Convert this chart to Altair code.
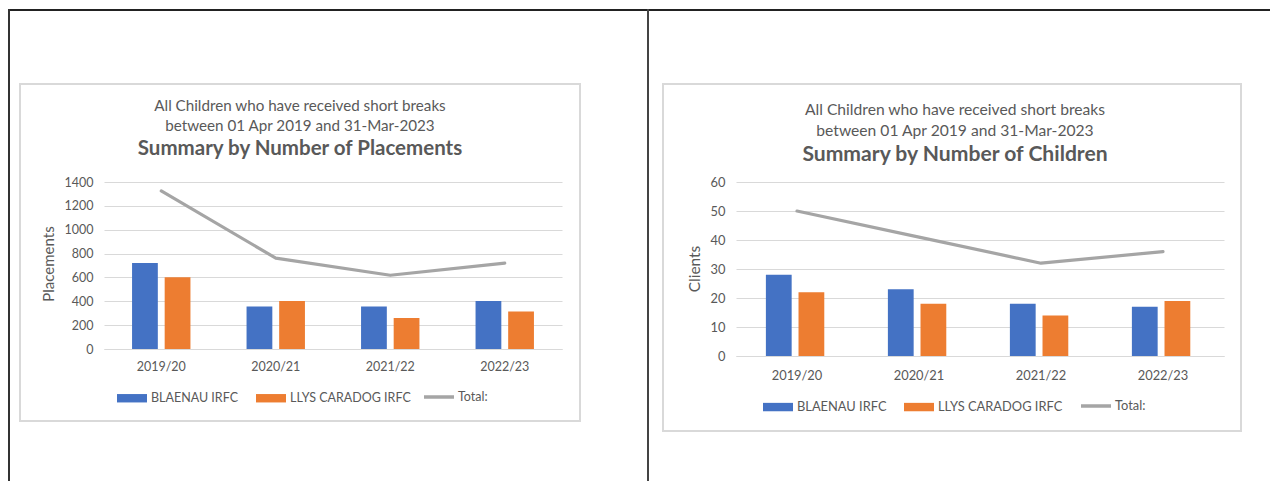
import altair as alt
import pandas as pd

# ---------------- data ----------------
years = ["2019/20", "2020/21", "2021/22", "2022/23"]
series = ["BLAENAU IRFC", "LLYS CARADOG IRFC"]
total_label = "Total:"

placements_blaenau = [720, 357, 357, 402]
placements_llys = [602, 402, 260, 315]
placements_total = [1325, 762, 618, 720]

children_blaenau = [28, 23, 18, 17]
children_llys = [22, 18, 14, 19]
children_total = [50, 41, 32, 36]

subtitle_1 = "All Children who have received short breaks"
subtitle_2 = "between 01 Apr 2019 and 31-Mar-2023"
title_left = "Summary by Number of Placements"
title_right = "Summary by Number of Children"
ytitle_left = "Placements"
ytitle_right = "Clients"

placement_ticks = [0, 200, 400, 600, 800, 1000, 1200, 1400]
children_ticks = [0, 10, 20, 30, 40, 50, 60]

BLUE = "#4472C4"
ORANGE = "#ED7D31"
GREY = "#A5A5A5"
TEXT = "#595959"
GRID = "#D9D9D9"
FONT = "Lato"

dummy = pd.DataFrame({"d": [0]})


def panel(b_vals, l_vals, t_vals, ticks, ymax, ytitle, title, w, h,
          box, title_x, title_ys, ytitle_xy, legend_x, legend_y,
          line_legend_x, xlabel_pad, extra=None, fs=1.0):
    bars_df = pd.DataFrame({
        "year": years * 2,
        "series": [series[0]] * 4 + [series[1]] * 4,
        "value": b_vals + l_vals,
    })
    line_df = pd.DataFrame({
        "year": years,
        "series": [total_label] * 4,
        "value": t_vals,
    })
    xenc = alt.X("year:N", sort=years,
                 scale=alt.Scale(paddingInner=0.49, paddingOuter=0.245),
                 axis=alt.Axis(title=None, labelAngle=0, ticks=False,
                               domainColor=GRID, domainWidth=1,
                               labelColor=TEXT, labelFont=FONT,
                               labelFontSize=12.5 * fs, labelPadding=xlabel_pad))
    yaxis = alt.Axis(title=None, values=ticks, format="d", grid=True,
                     gridColor=GRID, domain=False, ticks=False, tickSize=0,
                     labelPadding=11, labelColor=TEXT, labelFont=FONT,
                     labelFontSize=12.5 * fs)
    yenc = alt.Y("value:Q", scale=alt.Scale(domain=[0, ymax], nice=False),
                 axis=yaxis)

    x0, y0, x1, y1 = box
    layers = []
    boxr = alt.Chart(dummy).mark_rect(fillOpacity=0, stroke=GRID, strokeWidth=2).encode(
        x=alt.value(x0), x2=alt.value(x1), y=alt.value(y0), y2=alt.value(y1))
    layers.append(boxr)
    if extra is not None:
        layers.extend(extra)

    bars = alt.Chart(bars_df).mark_bar().encode(
        x=xenc,
        xOffset=alt.XOffset("series:N", sort=series,
                            scale=alt.Scale(paddingInner=0.21, paddingOuter=0)),
        y=yenc,
        color=alt.Color("series:N",
                        scale=alt.Scale(domain=series, range=[BLUE, ORANGE]),
                        legend=alt.Legend(
                            title=None, orient="none", legendX=legend_x,
                            legendY=legend_y, direction="horizontal",
                            symbolType="M-1,-0.28L1,-0.28L1,0.28L-1,0.28Z",
                            symbolSize=900, symbolStrokeWidth=0,
                            symbolOpacity=1, labelOffset=4, columnPadding=17,
                            padding=0, labelFont=FONT,
                            labelFontSize=12.5 * fs, labelColor=TEXT)),
    )
    line = alt.Chart(line_df).mark_line(strokeWidth=3.2, strokeJoin="round",
                                        strokeCap="round").encode(
        x=alt.X("year:N", sort=years),
        y=yenc,
        stroke=alt.Stroke("series:N",
                          scale=alt.Scale(domain=[total_label], range=[GREY]),
                          legend=alt.Legend(
                              title=None, orient="none", legendX=line_legend_x,
                              legendY=legend_y - 3, symbolType="stroke",
                              symbolSize=900, symbolStrokeWidth=3.5,
                              labelOffset=2, padding=0, labelFont=FONT,
                              labelFontSize=12.5 * fs, labelColor=TEXT)),
    )
    layers += [bars, line]

    t1 = alt.Chart(dummy).mark_text(text=subtitle_1, font=FONT, fontSize=15.2 * fs,
                                    color=TEXT, align="center", baseline="middle").encode(
        x=alt.value(title_x), y=alt.value(title_ys[0]))
    t2 = alt.Chart(dummy).mark_text(text=subtitle_2, font=FONT, fontSize=15.2 * fs,
                                    color=TEXT, align="center", baseline="middle").encode(
        x=alt.value(title_x), y=alt.value(title_ys[1]))
    t3 = alt.Chart(dummy).mark_text(text=title, font=FONT, fontSize=20.5 * fs,
                                    fontWeight="bold", color=TEXT, align="center",
                                    baseline="middle").encode(
        x=alt.value(title_x), y=alt.value(title_ys[2]))
    yt = alt.Chart(dummy).mark_text(text=ytitle, font=FONT, fontSize=15 * fs,
                                    color=TEXT, align="center", baseline="middle",
                                    angle=270).encode(
        x=alt.value(ytitle_xy[0]), y=alt.value(ytitle_xy[1]))
    layers += [t1, t2, t3, yt]

    return alt.layer(*layers).resolve_scale(color="independent",
                                            stroke="independent").properties(
        width=w, height=h)


# table lines (drawn in the left panel's coordinates)
table_lines = [
    alt.Chart(dummy).mark_rule(color="#222222", strokeWidth=2).encode(
        x=alt.value(-95), x2=alt.value(1166), y=alt.value(-172)),
    alt.Chart(dummy).mark_rule(color="#333333", strokeWidth=2).encode(
        x=alt.value(-95), y=alt.value(-173), y2=alt.value(299)),
    alt.Chart(dummy).mark_rule(color="#444444", strokeWidth=2).encode(
        x=alt.value(544), y=alt.value(-173), y2=alt.value(299)),
]

left = panel(placements_blaenau, placements_llys, placements_total,
             placement_ticks, 1400, ytitle_left, title_left, 458, 167,
             box=(-84, -98, 476, 239), title_x=196, title_ys=(-76, -56, -33),
             ytitle_xy=(-55, 82), legend_x=13, legend_y=201, line_legend_x=318,
             xlabel_pad=11, extra=table_lines)

right = panel(children_blaenau, children_llys, children_total,
              children_ticks, 60, ytitle_right, title_right, 488, 174,
              box=(-73, -98, 505, 249), title_x=219, title_ys=(-72, -51, -27),
              ytitle_xy=(-41, 87), legend_x=27, legend_y=210, line_legend_x=343,
              xlabel_pad=13, fs=1.03)

chart = alt.hconcat(left, right, spacing=174, bounds="flush").resolve_scale(
    color="independent", stroke="independent", x="independent", y="independent"
).resolve_legend(color="independent", stroke="independent").properties(
    padding=0
).configure_view(strokeWidth=0)

chart.save("out.html", embed_options={"renderer": "svg", "actions": False})
